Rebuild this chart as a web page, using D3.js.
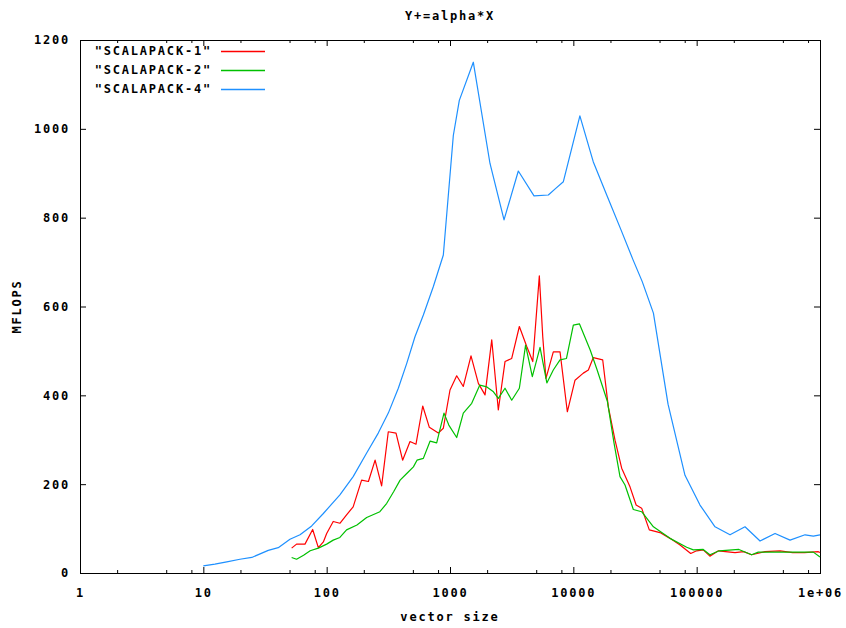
<!DOCTYPE html>
<html>
<head>
<meta charset="utf-8">
<script src="https://cdn.jsdelivr.net/npm/d3@7"></script>
<style>
  html, body { margin: 0; padding: 0; background: #fff; }
  svg text { font-family: "DejaVu Sans Mono", monospace; font-weight: bold; font-size: 12px; letter-spacing: 1.8px; fill: #000; }
</style>
</head>
<body>
<svg id="chart" width="846" height="628"></svg>
<script>
// ---------- data ----------
const chartTitle = "Y+=alpha*X";
const xLabel = "vector size";
const yLabel = "MFLOPS";
const seriesNames = ["\"SCALAPACK-1\"", "\"SCALAPACK-2\"", "\"SCALAPACK-4\""];
const seriesColors = ["#ff0000", "#00c000", "#1e90ff"];

const xTickValues = [1, 10, 100, 1000, 10000, 100000, 1000000];
const xTickLabels = ["1", "10", "100", "1000", "10000", "100000", "1e+06"];
const xMinorValues = [2, 5, 8, 20, 50, 80, 200, 500, 800, 2000, 5000, 8000, 20000, 50000, 80000, 200000, 500000, 800000];
const yTickValues = [0, 200, 400, 600, 800, 1000, 1200];

const s1X = [52, 57, 66.7, 77, 85.6, 94, 100, 113, 128, 145, 164, 192, 218, 247, 279, 316, 365, 413, 474, 530, 601, 680, 804, 883, 1000, 1133, 1282, 1480, 1698, 1923, 2180, 2465, 2793, 3165, 3650, 4190, 4690, 5300, 5650, 6000, 6880, 7800, 8940, 10320, 12050, 13240, 14520, 17300, 19220, 21780, 24660, 28800, 32300, 35800, 41300, 50400, 60800, 73300, 89500, 100000, 113000, 128000, 150000, 204600, 240000, 279000, 358000, 474000, 600000, 750000, 969000, 1000000];
const s1Y = [56, 65, 65, 98, 57, 70, 89, 116, 112, 131, 149, 209, 206, 254, 196, 318, 315, 254, 296, 290, 376, 328, 315, 326, 412, 444, 420, 489, 427, 401, 525, 367, 476, 483, 555, 510, 476, 669, 532, 438, 498, 498, 363, 434, 450, 457, 485, 480, 374, 299, 236, 194, 153, 146, 97, 91, 78, 63, 44, 50, 52, 38, 50, 46, 48, 41, 48, 50, 46, 46, 48, 46];

const s2X = [52, 57, 65, 73.5, 85.6, 100, 113, 128, 145, 176, 211, 270, 307, 349, 394, 446, 505, 540, 608, 690, 780, 894, 978, 1133, 1282, 1500, 1745, 1990, 2250, 2465, 2793, 3165, 3650, 4100, 4650, 5370, 6100, 6880, 7800, 8800, 10000, 11200, 13700, 15600, 18900, 21400, 23900, 26240, 30650, 35800, 44600, 60800, 83000, 94000, 113000, 128000, 152700, 220000, 279000, 315700, 883000, 1000000];
const s2Y = [35, 31, 40, 50, 56, 65, 74, 80, 97, 108, 125, 138, 157, 183, 209, 224, 239, 254, 258, 297, 293, 360, 333, 305, 360, 382, 423, 419, 408, 393, 416, 389, 416, 513, 442, 508, 428, 457, 480, 483, 558, 561, 502, 457, 386, 292, 217, 198, 143, 138, 104, 78, 58, 52, 53, 41, 50, 53, 41, 47, 47, 36];

const s4X = [10, 12.4, 15.5, 19.8, 24.7, 33.6, 40.5, 50.4, 60.8, 75.6, 94, 128, 164, 211, 262, 316, 381, 446, 520, 608, 733, 883, 1064, 1190, 1545, 2110, 2742, 3580, 4800, 6270, 7200, 8300, 11300, 14500, 18900, 24400, 30500, 36200, 44600, 58600, 80400, 106400, 140900, 186400, 246600, 326500, 432000, 571700, 756600, 883000, 1000000];
const s4Y = [16, 20, 25, 31, 35, 51, 57, 76, 86, 106, 134, 176, 217, 270, 315, 360, 416, 472, 532, 581, 645, 716, 985, 1064, 1150, 922, 795, 905, 849, 851, 866, 881, 1029, 926, 847, 772, 705, 656, 585, 380, 220, 153, 104, 86, 104, 72, 89, 74, 86, 83, 86];

// ---------- layout ----------
const L = 80, R = 820, T = 40, B = 573;
const svg = d3.select("#chart");
const x = d3.scaleLog().domain([1, 1e6]).range([L, R]);
const y = d3.scaleLinear().domain([0, 1200]).range([B, T]);

function clean(g) { g.select(".domain").remove(); g.selectAll("line").attr("stroke", "#000"); }

// bottom major with labels
svg.append("g").attr("transform", `translate(0,${B})`)
  .call(d3.axisBottom(x).tickValues(xTickValues).tickSize(-6).tickPadding(15)
    .tickFormat((d, i) => xTickLabels[i]))
  .call(clean)
  .call(g => g.selectAll("text").attr("font-size", null).attr("font-family", null));
// bottom minor
svg.append("g").attr("transform", `translate(0,${B})`)
  .call(d3.axisBottom(x).tickValues(xMinorValues).tickSize(-3).tickFormat(""))
  .call(clean);
// top major/minor
svg.append("g").attr("transform", `translate(0,${T})`)
  .call(d3.axisTop(x).tickValues(xTickValues).tickSize(-6).tickFormat(""))
  .call(clean);
svg.append("g").attr("transform", `translate(0,${T})`)
  .call(d3.axisTop(x).tickValues(xMinorValues).tickSize(-3).tickFormat(""))
  .call(clean);
// left
svg.append("g").attr("transform", `translate(${L},0)`)
  .call(d3.axisLeft(y).tickValues(yTickValues).tickSize(-6).tickPadding(10).tickFormat(d3.format("d")))
  .call(clean)
  .call(g => g.selectAll("text").attr("font-size", null).attr("font-family", null));
// right
svg.append("g").attr("transform", `translate(${R},0)`)
  .call(d3.axisRight(y).tickValues(yTickValues).tickSize(-6).tickFormat(""))
  .call(clean);

// border
svg.append("rect").attr("x", L + 0.5).attr("y", T + 0.5)
  .attr("width", R - L).attr("height", B - T)
  .attr("fill", "none").attr("stroke", "#000").attr("stroke-width", 1);

// series
const series = [
  { xs: s1X, ys: s1Y },
  { xs: s2X, ys: s2Y },
  { xs: s4X, ys: s4Y }
];
const line = d3.line().x(d => x(d[0])).y(d => y(d[1]));
series.forEach((s, i) => {
  const pts = s.xs.map((v, j) => [v, s.ys[j]]);
  svg.append("path").datum(pts).attr("d", line)
    .attr("fill", "none").attr("stroke", seriesColors[i]).attr("stroke-width", 1.2)
    .attr("stroke-linejoin", "round");
});

// legend
seriesNames.forEach((name, i) => {
  const yy = 51 + i * 19;
  svg.append("text").attr("x", 212).attr("y", yy).attr("dy", "0.35em")
    .attr("text-anchor", "end").text(name);
  svg.append("line").attr("x1", 221).attr("x2", 265).attr("y1", yy + 0.5).attr("y2", yy + 0.5)
    .attr("stroke", seriesColors[i]).attr("stroke-width", 1.5);
});

// title and axis labels
svg.append("text").attr("x", 450).attr("y", 16).attr("dy", "0.35em")
  .attr("text-anchor", "middle").text(chartTitle);
svg.append("text").attr("x", 450).attr("y", 617).attr("dy", "0.35em")
  .attr("text-anchor", "middle").text(xLabel);
svg.append("text").attr("transform", `translate(17,${(T + B) / 2}) rotate(-90)`)
  .attr("dy", "0.35em").attr("text-anchor", "middle").text(yLabel);
</script>
</body>
</html>
